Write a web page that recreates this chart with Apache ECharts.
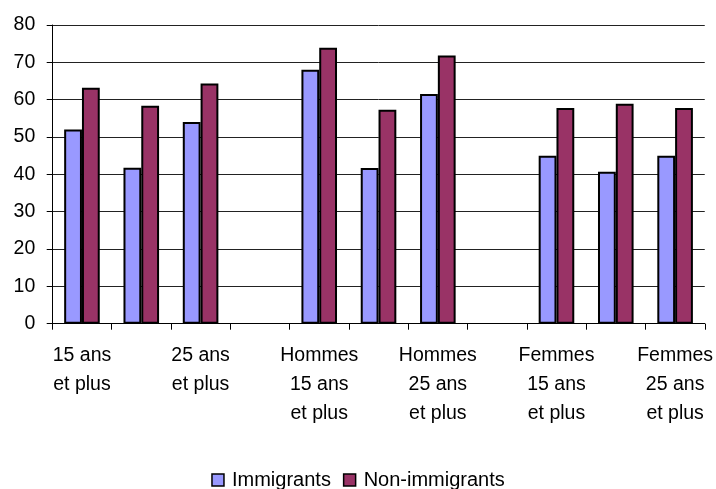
<!DOCTYPE html>
<html>
<head>
<meta charset="utf-8">
<script src="https://cdn.jsdelivr.net/npm/echarts@6/dist/echarts.min.js"></script>
<style>html,body{margin:0;padding:0;background:#fff}#c{width:716px;height:489px}</style>
</head>
<body>
<div id="c"></div>
<script>
var categories = [
  "15 ans\net plus", "15 à 24 ans", "25 ans\net plus", "",
  "Hommes\n15 ans\net plus", "Hommes\n15 à 24 ans", "Hommes\n25 ans\net plus", " ",
  "Femmes\n15 ans\net plus", "Femmes\n15 à 24 ans", "Femmes\n25 ans\net plus"
];
var immigrants    = [52, 41.8, 54, null, 68, 41.7, 61.5, null, 45, 40.7, 45];
var nonImmigrants = [63.2, 58.4, 64.3, null, 73.9, 57.3, 71.8, null, 57.8, 58.9, 57.8];
var yTicks = { min: 0, max: 80, interval: 10 };

var font = '"Liberation Sans", Arial, sans-serif';
var chart = echarts.init(document.getElementById('c'), null, { renderer: 'canvas' });
chart.setOption({
  animation: false,
  backgroundColor: '#fff',
  grid: { left: 52.3, right: 10.7, top: 25, bottom: 165.3, containLabel: false },
  legend: {
    data: ['Immigrants', 'Non-immigrants'],
    top: 465,
    left: 'center',
    icon: 'rect',
    itemWidth: 12,
    itemHeight: 12,
    itemGap: 12,
    textStyle: { fontFamily: font, fontSize: 20, color: '#000', padding: [0, 0, 0, 3] },
    itemStyle: { borderColor: '#000', borderWidth: 1.5 }
  },
  xAxis: {
    type: 'category',
    data: categories,
    boundaryGap: true,
    axisLine: { lineStyle: { color: '#000', width: 1 } },
    axisTick: { show: true, interval: 0, length: 6, lineStyle: { color: '#000' } },
    axisLabel: {
      interval: 1,
      margin: 17,
      fontFamily: font,
      fontSize: 19.5,
      lineHeight: 29.3,
      color: '#000',
      align: 'center'
    },
    splitLine: { show: false }
  },
  yAxis: {
    type: 'value',
    min: yTicks.min,
    max: yTicks.max,
    interval: yTicks.interval,
    axisLine: { show: true, lineStyle: { color: '#000', width: 1 } },
    axisTick: { show: true, length: 5.6, lineStyle: { color: '#000' } },
    axisLabel: { margin: 17, fontFamily: font, fontSize: 19.5, color: '#000' },
    splitLine: { show: true, lineStyle: { color: '#222', width: 1 } }
  },
  series: [
    {
      name: 'Immigrants', type: 'bar', data: immigrants,
      barGap: '0%', barCategoryGap: '40%',
      itemStyle: { color: '#9999FF', borderColor: '#000', borderWidth: 2 }
    },
    {
      name: 'Non-immigrants', type: 'bar', data: nonImmigrants,
      barGap: '0%', barCategoryGap: '40%',
      itemStyle: { color: '#993366', borderColor: '#000', borderWidth: 2 }
    }
  ]
});
</script>
</body>
</html>
